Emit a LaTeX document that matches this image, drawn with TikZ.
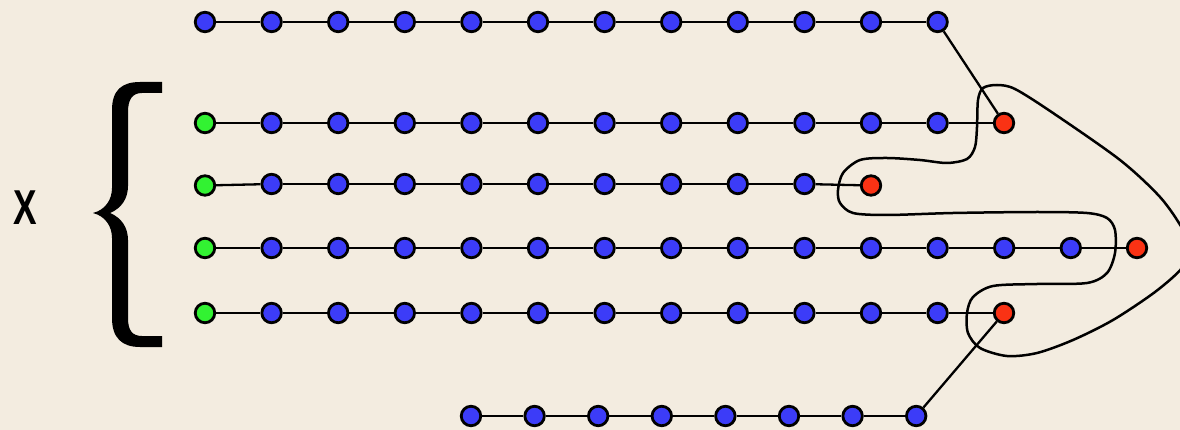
\documentclass[tikz,border=0pt]{standalone}
\usepackage{fontspec}
\setmainfont{Liberation Sans}
\definecolor{bg}{RGB}{243,236,224}
\definecolor{nblue}{RGB}{60,60,248}
\definecolor{nred}{RGB}{250,50,20}
\definecolor{ngreen}{RGB}{50,242,50}
\tikzset{
  dot/.style={circle,draw=black,line width=2.8pt,minimum size=19.5pt,inner sep=0pt},
  bdot/.style={dot,fill=nblue},
  rdot/.style={dot,fill=nred},
  gdot/.style={dot,fill=ngreen},
  link/.style={draw=black,line width=2.3pt},
  loopline/.style={draw=black,line width=2.5pt},
}
\begin{document}
\begin{tikzpicture}[x=1pt,y=-1pt]
\fill[bg] (0,0) rectangle (1180,430);
\useasboundingbox (0,0) rectangle (1180,430);
\clip (0,0) rectangle (1180,430);
% top row
\foreach \i in {0,...,11} \node[bdot] (t\i) at ({205+66.6*\i},22) {};
% row a
\node[gdot] (a0) at (205,123) {};
\foreach \i in {1,...,11} \node[bdot] (a\i) at ({205+66.6*\i},123) {};
\node[rdot] (a12) at (1004,123) {};
% row b
\node[gdot] (b0) at (205,185.5) {};
\foreach \i in {1,...,9} \node[bdot] (b\i) at ({205+66.6*\i},184) {};
\node[rdot] (b10) at (871,185.5) {};
% row c
\node[gdot] (c0) at (205,248) {};
\foreach \i in {1,...,13} \node[bdot] (c\i) at ({205+66.6*\i},248) {};
\node[rdot] (c14) at (1137,248) {};
% row d
\node[gdot] (d0) at (205,313) {};
\foreach \i in {1,...,11} \node[bdot] (d\i) at ({205+66.6*\i},313) {};
\node[rdot] (d12) at (1004,313) {};
% bottom row
\foreach \i in {0,...,7} \node[bdot] (u\i) at ({471+63.6*\i},416) {};
% links
\foreach \i [evaluate=\i as \j using int(\i+1)] in {0,...,10} \draw[link] (t\i) -- (t\j);
\foreach \i [evaluate=\i as \j using int(\i+1)] in {0,...,11} \draw[link] (a\i) -- (a\j);
\foreach \i [evaluate=\i as \j using int(\i+1)] in {0,...,9} \draw[link] (b\i) -- (b\j);
\foreach \i [evaluate=\i as \j using int(\i+1)] in {0,...,13} \draw[link] (c\i) -- (c\j);
\foreach \i [evaluate=\i as \j using int(\i+1)] in {0,...,11} \draw[link] (d\i) -- (d\j);
\foreach \i [evaluate=\i as \j using int(\i+1)] in {0,...,6} \draw[link] (u\i) -- (u\j);
\draw[link] (t11) -- (a12);
\draw[link] (u7) -- (d12);
% closed loop
\draw[loopline] plot[smooth cycle, tension=0.5] coordinates {
 (997,85) (1015,89) (1053,113) (1120,160) (1160,197) (1182,228) (1190,248)
 (1182,268) (1155,292) (1113,320) (1073,340) (1037,353) (1007,356) (980,348)
 (968,333) (967,313) (973,297) (993,286) (1037,284) (1087,283) (1107,273)
 (1115,253) (1115,230) (1107,218) (1087,213) (1037,212) (953,213) (887,215)
 (853,213) (840,203) (838,190) (843,173) (860,160) (887,158) (920,160)
 (947,163) (967,159) (975,147) (977,127) (978,100) (983,88)};
% brace
\fill[black] (162,82) -- (140,82) .. controls (122,82) and (112,90) .. (112,110)
  -- (112,188) .. controls (112,200) and (105,210) .. (93,213)
  .. controls (105,216) and (112,226) .. (112,238) -- (112,318)
  .. controls (112,338) and (122,347) .. (140,347) -- (162,347) -- (162,336)
  -- (142,336) .. controls (132,336) and (128,330) .. (128,318) -- (128,240)
  .. controls (128,228) and (122,218) .. (110,213)
  .. controls (122,208) and (128,198) .. (128,186) -- (128,112)
  .. controls (128,100) and (132,93) .. (142,93) -- (162,93) -- cycle;
\node (xlabel) at (25,208) {\scalebox{0.72}[1]{\fontsize{49}{49}\selectfont\bfseries X}};
\end{tikzpicture}
\end{document}
